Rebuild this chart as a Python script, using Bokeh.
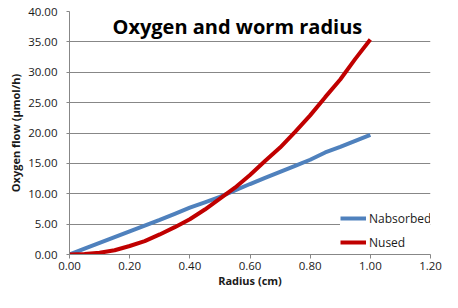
from bokeh.plotting import figure
from bokeh.models import FixedTicker, NumeralTickFormatter, Range1d, Label, Legend, LegendItem
from bokeh.embed import file_html
from bokeh.resources import INLINE

radius = [0.00, 0.05, 0.10, 0.15, 0.20, 0.25, 0.30, 0.35, 0.40, 0.45, 0.50,
          0.55, 0.60, 0.65, 0.70, 0.75, 0.80, 0.85, 0.90, 0.95, 1.00]
n_absorbed = [0.0, 0.95, 1.9, 2.85, 3.8, 4.75, 5.7, 6.7, 7.7, 8.6, 9.5,
              10.55, 11.6, 12.6, 13.6, 14.6, 15.6, 16.8, 17.7, 18.7, 19.7]
n_used = [0.0, 0.1, 0.3, 0.7, 1.4, 2.2, 3.3, 4.5, 5.8, 7.4, 9.2,
          11.0, 13.1, 15.4, 17.6, 20.2, 22.9, 25.9, 28.8, 32.2, 35.4]
x_ticks = [0.0, 0.2, 0.4, 0.6, 0.8, 1.0, 1.2]
y_ticks = [0, 5, 10, 15, 20, 25, 30, 35, 40]

FONT = "Open Sans"
GRAY = "#878787"
TXT = "#1a1a1a"

p = figure(width=442, height=292, output_backend="svg", toolbar_location=None,
           x_range=Range1d(0, 1.2), y_range=Range1d(0, 40))
p.min_border_left = 69
p.min_border_right = 12
p.min_border_top = 11
p.min_border_bottom = 38
p.outline_line_color = None
p.background_fill_color = "white"
p.border_fill_color = "white"

p.xgrid.grid_line_color = None
p.ygrid.grid_line_color = GRAY
p.ygrid.grid_line_width = 1
p.ygrid.ticker = FixedTicker(ticks=y_ticks)

p.xaxis.ticker = FixedTicker(ticks=x_ticks)
p.yaxis.ticker = FixedTicker(ticks=y_ticks)
p.xaxis.formatter = NumeralTickFormatter(format="0.00")
p.yaxis.formatter = NumeralTickFormatter(format="0.00")
for ax in (p.xaxis, p.yaxis):
    ax.axis_line_color = GRAY
    ax.major_tick_line_color = GRAY
    ax.minor_tick_line_color = None
    ax.major_tick_in = 0
    ax.major_label_text_font = FONT
    ax.major_label_text_font_size = "11.5px"
    ax.major_label_text_color = TXT
    ax.axis_label_text_font = FONT
    ax.axis_label_text_font_style = "bold"
    ax.axis_label_text_font_size = "11px"
    ax.axis_label_text_color = TXT
p.xaxis.major_tick_out = 4
p.yaxis.major_tick_out = 3
p.xaxis.major_label_standoff = 3
p.yaxis.major_label_standoff = 9
p.xaxis.axis_label = "Radius (cm)"
p.yaxis.axis_label = "Oxygen flow (µmol/h)"
p.xaxis.axis_label_standoff = 0
p.yaxis.axis_label_standoff = 2

r1 = p.line(radius, n_absorbed, line_color="#4F81BD", line_width=4)
r2 = p.line(radius, n_used, line_color="#C00000", line_width=4)

legend = Legend(items=[LegendItem(label="Nabsorbed", renderers=[r1]),
                       LegendItem(label="Nused", renderers=[r2])],
                location=(271, 2), padding=2, margin=0, spacing=4,
                glyph_width=26, glyph_height=20, label_height=20,
                label_standoff=3, border_line_color=None,
                background_fill_color="white", background_fill_alpha=1,
                label_text_font=FONT, label_text_font_size="12px",
                label_text_color=TXT)
p.add_layout(legend, "center")

title = Label(x=0.558, y=37.6, text="Oxygen and worm radius",
              text_font=FONT, text_font_style="bold", text_font_size="20px",
              text_align="center", text_baseline="alphabetic", text_color="black")
p.add_layout(title)

open("out.html", "w").write(file_html(p, INLINE))
